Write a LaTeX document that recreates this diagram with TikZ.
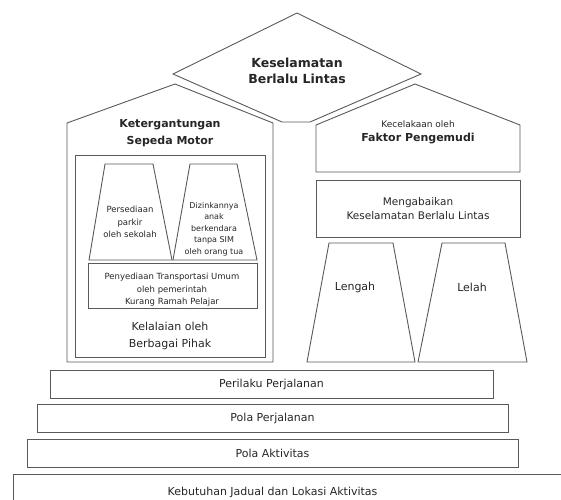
\documentclass[tikz,border=0pt]{standalone}
\usepackage{fontspec}
\setmainfont{DejaVu Sans}
\usetikzlibrary{positioning}

\begin{document}
\begin{tikzpicture}[
    x=1pt, y=-1pt,
    garis/.style={draw=black!65, line width=0.9pt},
    teks/.style={align=center, text=black!85, inner sep=1pt},
    kecil/.style={teks, font=\fontsize{8.5}{12.5}\selectfont},
    sedang/.style={teks, font=\fontsize{10.5}{14}\selectfont},
    biasa/.style={teks, font=\fontsize{11}{17}\selectfont},
    judul/.style={teks, font=\bfseries\fontsize{11}{17}\selectfont},
    lapis/.style={garis, biasa, minimum height=28pt, inner sep=0pt}
]

    % 0. Batas gambar
    \clip (0,0) rectangle (561,499);

    % 1. Atap (bagian paling atas)
    \draw[garis] (173,74) -- (297,13) -- (421,74) -- (310,122) -- (282,122) -- cycle;
    \node[judul, font=\bfseries\fontsize{12.5}{16}\selectfont] (keselamatan) at (297,71) {Keselamatan\\Berlalu Lintas};

    % 2. Rumah kiri
    \draw[garis] (67,362) -- (67,123) -- (175,84) -- (273,123) -- (273,362) -- cycle;
    \node[judul] (ketergantungan) at (170,133) {Ketergantungan\\Sepeda Motor};
    \draw[garis] (75,155) rectangle (265,357);
    \draw[garis] (89,260) -- (105,164) -- (153,164) -- (172,260) -- cycle;
    \node[kecil] (parkir) at (130,222) {Persediaan\\parkir\\oleh sekolah};
    \draw[garis] (173,260) -- (190,164) -- (237,164) -- (257,260) -- cycle;
    \node[kecil, font=\fontsize{8}{11.5}\selectfont] (sim) at (214,229) {Dizinkannya\\anak\\berkendara\\tanpa SIM\\oleh orang tua};
    \draw[garis] (88,263) rectangle (257,308);
    \node[kecil] (transportasi) at (172,290) {Penyediaan Transportasi Umum\\oleh pemerintah\\Kurang Ramah Pelajar};
    \node[biasa] (kelalaian) at (170,336) {Kelalaian oleh\\Berbagai Pihak};

    % 3. Rumah kanan
    \draw[garis] (316,172) -- (316,125) -- (415,84) -- (520,125) -- (520,172) -- cycle;
    \node[kecil, font=\fontsize{9}{12}\selectfont] (kecelakaan) at (418,124) {Kecelakaan oleh};
    \node[judul, below=3pt of kecelakaan] (faktor) {Faktor Pengemudi};
    \draw[garis] (316,180) rectangle (520,237);
    \node[sedang] (mengabaikan) at (418,209) {Mengabaikan\\Keselamatan Berlalu Lintas};
    \draw[garis] (307,362) -- (329,243) -- (393,243) -- (415,362) -- cycle;
    \node[biasa] (lengah) at (355,287) {Lengah};
    \draw[garis] (418,362) -- (442,243) -- (505,243) -- (527,362) -- cycle;
    \node[biasa] (lelah) at (472,287) {Lelah};

    % 4. Lapisan dasar
    \node[lapis, minimum width=443pt] (perilaku) at (271.5,384) {Perilaku Perjalanan};
    \node[lapis, minimum width=471pt] (polajalan) at (272.5,418) {Pola Perjalanan};
    \node[lapis, minimum width=491pt] (polaaktif) at (272.5,453) {Pola Aktivitas};
    \draw[garis] (13,474) rectangle (580,512);
    \node[biasa] (kebutuhan) at (272.5,492) {Kebutuhan Jadual dan Lokasi Aktivitas};

\end{tikzpicture}
\end{document}
